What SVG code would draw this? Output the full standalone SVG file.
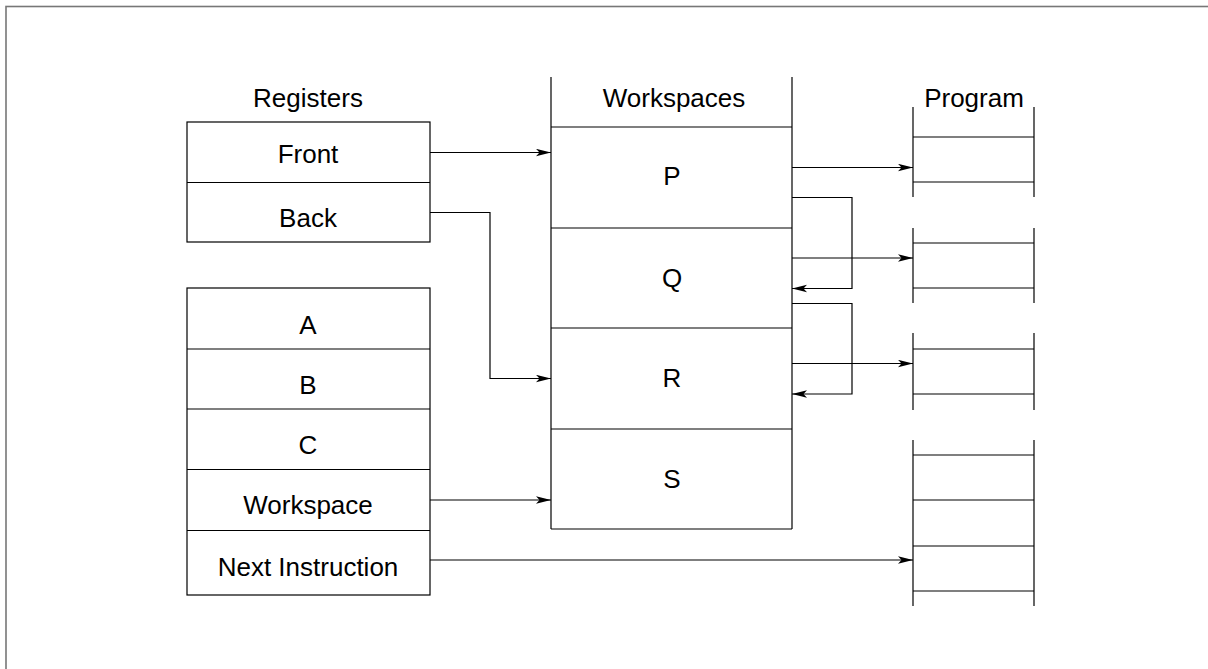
<svg xmlns="http://www.w3.org/2000/svg" width="1208" height="669" viewBox="0 0 1208 669">
<style>
.b{fill:#fff;stroke:#000;stroke-width:1.2}
.l{stroke:#000;stroke-width:1.2;fill:none}
.c{stroke:#000;stroke-width:1.2;fill:none}
.t{font-family:"Liberation Sans",Arial,sans-serif;font-size:26px;fill:#000;text-anchor:middle}
</style>
<defs>
<marker id="ah" markerUnits="userSpaceOnUse" markerWidth="18" markerHeight="10" refX="15" refY="4" orient="auto">
<path d="M0,0.3 L15,4 L0,7.7 L3.5,4 z" fill="#000"/>
</marker>
</defs>
<rect x="6" y="6.5" width="1300" height="800" fill="none" stroke="#777" stroke-width="1.6"/>
<g id="registers">
<text class="t" x="308" y="107">Registers</text>
<rect class="b" x="187" y="122" width="243" height="120"/>
<line class="l" x1="187" y1="182.5" x2="430" y2="182.5"/>
<text class="t" x="308" y="163">Front</text>
<text class="t" x="308" y="227">Back</text>
</g>
<g id="register-file">
<rect class="b" x="187" y="288" width="243" height="307"/>
<line class="l" x1="187" y1="349" x2="430" y2="349"/>
<line class="l" x1="187" y1="409" x2="430" y2="409"/>
<line class="l" x1="187" y1="469.5" x2="430" y2="469.5"/>
<line class="l" x1="187" y1="530.5" x2="430" y2="530.5"/>
<text class="t" x="308" y="334">A</text>
<text class="t" x="308" y="394">B</text>
<text class="t" x="308" y="454">C</text>
<text class="t" x="308" y="514">Workspace</text>
<text class="t" x="308" y="576">Next Instruction</text>
</g>
<g id="workspaces">
<line class="l" x1="551" y1="77" x2="551" y2="529"/>
<line class="l" x1="792" y1="77" x2="792" y2="529"/>
<line class="l" x1="551" y1="127" x2="792" y2="127"/>
<line class="l" x1="551" y1="228" x2="792" y2="228"/>
<line class="l" x1="551" y1="328" x2="792" y2="328"/>
<line class="l" x1="551" y1="429" x2="792" y2="429"/>
<line class="l" x1="551" y1="529" x2="792" y2="529"/>
<text class="t" x="674" y="107">Workspaces</text>
<text class="t" x="672" y="185">P</text>
<text class="t" x="672" y="287">Q</text>
<text class="t" x="672" y="387">R</text>
<text class="t" x="672" y="488">S</text>
</g>
<g id="program">
<text class="t" x="974" y="107">Program</text>
<line class="l" x1="913" y1="107" x2="913" y2="197"/>
<line class="l" x1="1034" y1="107" x2="1034" y2="197"/>
<line class="l" x1="913" y1="137" x2="1034" y2="137"/>
<line class="l" x1="913" y1="182" x2="1034" y2="182"/>
</g>
<g id="program-2">
<line class="l" x1="913" y1="228" x2="913" y2="303"/>
<line class="l" x1="1034" y1="228" x2="1034" y2="303"/>
<line class="l" x1="913" y1="243" x2="1034" y2="243"/>
<line class="l" x1="913" y1="288" x2="1034" y2="288"/>
</g>
<g id="program-3">
<line class="l" x1="913" y1="333" x2="913" y2="410"/>
<line class="l" x1="1034" y1="333" x2="1034" y2="410"/>
<line class="l" x1="913" y1="349" x2="1034" y2="349"/>
<line class="l" x1="913" y1="394" x2="1034" y2="394"/>
</g>
<g id="program-4">
<line class="l" x1="913" y1="440" x2="913" y2="606"/>
<line class="l" x1="1034" y1="440" x2="1034" y2="606"/>
<line class="l" x1="913" y1="455" x2="1034" y2="455"/>
<line class="l" x1="913" y1="500" x2="1034" y2="500"/>
<line class="l" x1="913" y1="546" x2="1034" y2="546"/>
<line class="l" x1="913" y1="591" x2="1034" y2="591"/>
</g>
<g id="connectors">
<path class="c" d="M430,152.5 H551" marker-end="url(#ah)"/>
<path class="c" d="M430,212.5 H490 V378.5 H551" marker-end="url(#ah)"/>
<path class="c" d="M430,500 H551" marker-end="url(#ah)"/>
<path class="c" d="M430,560 H913" marker-end="url(#ah)"/>
<path class="c" d="M792,167.5 H913" marker-end="url(#ah)"/>
<path class="c" d="M792,197.5 H852 V288.5 H792" marker-end="url(#ah)"/>
<path class="c" d="M792,258 H913" marker-end="url(#ah)"/>
<path class="c" d="M792,303.5 H852 V394 H792" marker-end="url(#ah)"/>
<path class="c" d="M792,363.5 H913" marker-end="url(#ah)"/>
</g>
</svg>
